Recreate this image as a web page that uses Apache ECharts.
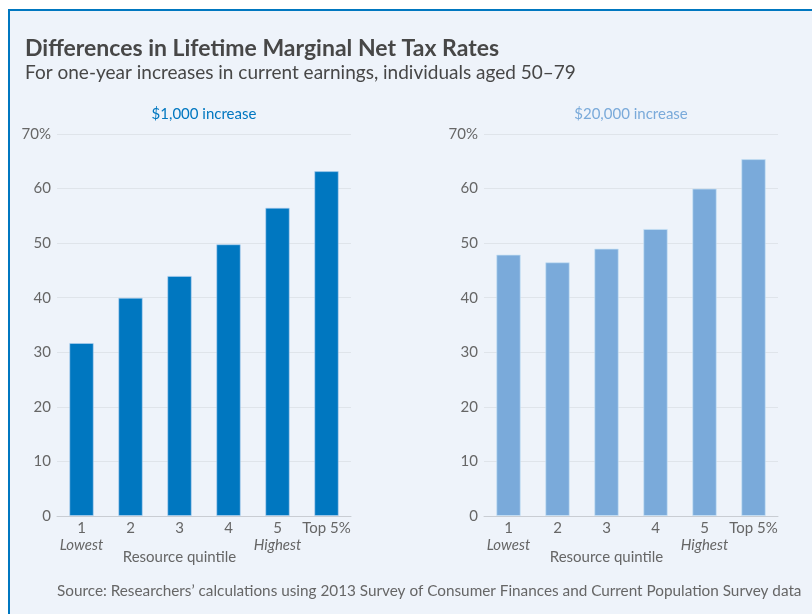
<!DOCTYPE html>
<html>
<head>
<meta charset="utf-8">
<script src="https://cdn.jsdelivr.net/npm/echarts@6/dist/echarts.min.js"></script>
<style>
  html, body { margin: 0; padding: 0; background: #ffffff; }
  #frame { position: absolute; left: 8px; top: 9px; width: 810px; height: 620px;
           background: #eef3fa; border-left: 2px solid #0077c0; border-top: 2px solid #0077c0; }
  #chart { position: absolute; left: 0; top: 0; width: 812px; height: 614px; }
</style>
</head>
<body>
<div id="frame"></div>
<div id="chart"></div>
<script>
const categories = ['1', '2', '3', '4', '5', 'Top 5%'];
const subLabels = ['Lowest', '', '', '', 'Highest', ''];
const axisTitle = 'Resource quintile';
const increase1000 = [31.7, 40.0, 44.0, 49.8, 56.5, 63.2];
const increase20000 = [47.9, 46.5, 49.0, 52.6, 60.0, 65.4];
const yTicks = [0, 10, 20, 30, 40, 50, 60, 70];

const FONT = 'Lato';
const GRAY = '#666666';

const chart = echarts.init(document.getElementById('chart'), null, { renderer: 'canvas' });

function xLabel(value, idx) {
  if (idx === 2) return value + '\n{gap|}\n{q|' + axisTitle + '}';
  if (subLabels[idx]) return value + '\n{i|' + subLabels[idx] + '}';
  return value;
}
const xRich = {
  i: { fontStyle: 'italic', fontSize: 15, lineHeight: 17, color: GRAY, fontFamily: FONT },
  gap: { lineHeight: 12, fontSize: 1 },
  q: { fontSize: 15, lineHeight: 17, color: GRAY, fontFamily: FONT }
};

function makeX(gridIndex) {
  return {
    type: 'category', gridIndex, data: categories,
    axisTick: { show: false },
    axisLine: { lineStyle: { color: '#c9cdd3', width: 1 } },
    axisLabel: { color: GRAY, fontSize: 15, fontFamily: FONT, lineHeight: 17, margin: 4,
                 interval: 0, formatter: xLabel, rich: xRich }
  };
}
function makeY(gridIndex) {
  return {
    type: 'value', gridIndex, min: yTicks[0], max: yTicks[yTicks.length - 1], interval: 10,
    axisLine: { show: false }, axisTick: { show: false },
    splitLine: { lineStyle: { color: '#dfe4ea', width: 1 } },
    axisLabel: { color: GRAY, fontSize: 15, fontFamily: FONT, margin: 6,
                 formatter: v => v === yTicks[yTicks.length - 1] ? v + '%' : String(v) }
  };
}

chart.setOption({
  backgroundColor: 'transparent',
  animation: false,
  title: [
    { text: 'Differences in Lifetime Marginal Net Tax Rates', left: 25, top: 37, padding: 0,
      textStyle: { fontFamily: FONT, fontSize: 23, fontWeight: 'bold', color: '#474747' } },
    { text: 'For one-year increases in current earnings, individuals aged 50–79', left: 25, top: 63, padding: 0,
      textStyle: { fontFamily: FONT, fontSize: 19, fontWeight: 'normal', color: '#474747' } },
    { text: '$1,000 increase', left: 204, top: 107, textAlign: 'center', padding: 0,
      textStyle: { fontFamily: FONT, fontSize: 15, fontWeight: 'normal', color: '#0077c0' } },
    { text: '$20,000 increase', left: 631, top: 107, textAlign: 'center', padding: 0,
      textStyle: { fontFamily: FONT, fontSize: 15, fontWeight: 'normal', color: '#7aaada' } },
    { text: 'Source: Researchers’ calculations using 2013 Survey of Consumer Finances and Current Population Survey data',
      left: 57, top: 584, padding: 0,
      textStyle: { fontFamily: FONT, fontSize: 15.3, fontWeight: 'normal', color: GRAY } }
  ],
  grid: [
    { left: 57, right: 461, top: 134, bottom: 98 },
    { left: 484, right: 34, top: 134, bottom: 98 }
  ],
  xAxis: [makeX(0), makeX(1)],
  yAxis: [makeY(0), makeY(1)],
  series: [
    { type: 'bar', xAxisIndex: 0, yAxisIndex: 0, data: increase1000, barWidth: '50%',
      itemStyle: { color: '#0077c0', borderColor: 'rgba(180,210,240,0.6)', borderWidth: 1 } },
    { type: 'bar', xAxisIndex: 1, yAxisIndex: 1, data: increase20000, barWidth: '50%',
      itemStyle: { color: '#7aaada', borderColor: 'rgba(200,225,245,0.7)', borderWidth: 1 } }
  ]
});
</script>
</body>
</html>
